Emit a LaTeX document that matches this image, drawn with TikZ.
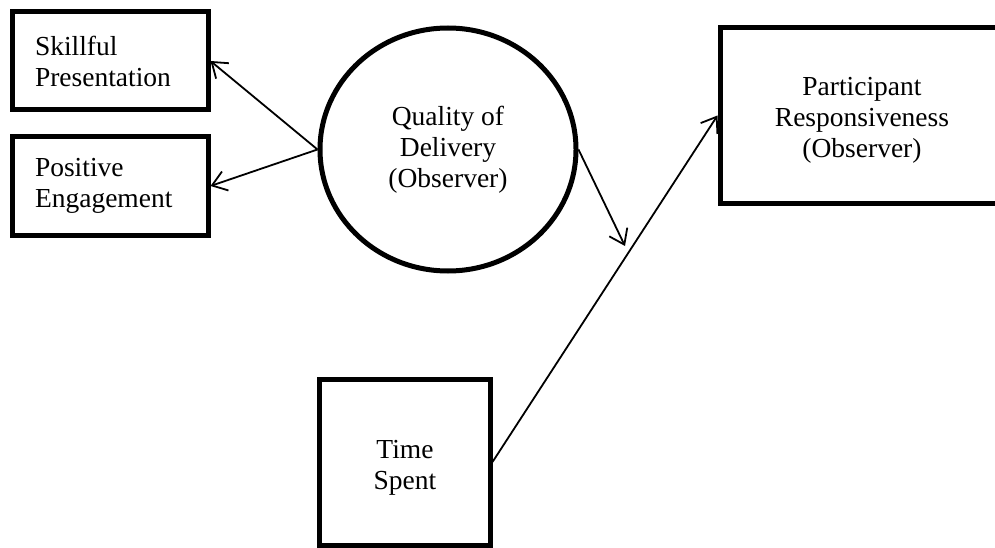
\documentclass[tikz,border=0pt]{standalone}
\usepackage{fontspec}
\setmainfont{Liberation Serif}
\usetikzlibrary{shapes.geometric,arrows.meta}

\tikzset{
  txt/.style={font=\fontsize{27.5}{31}\selectfont},
  box/.style={draw, line width=5pt, rectangle, inner sep=0pt, align=center, txt},
  leftbox/.style={box, minimum width=196pt, minimum height=98pt,
    text width=150pt, align=left},
  oval/.style={draw, line width=5pt, ellipse, inner sep=0pt, align=center,
    minimum width=256pt, minimum height=243pt, txt},
  link/.style={line width=1.8pt, -{Straight Barb[length=14pt,width=20pt,line width=1.8pt]}}
}

\begin{document}
\begin{tikzpicture}[x=1pt, y=-1pt]
  \useasboundingbox (0,0) rectangle (995,548);
  \fill[white] (0,0) rectangle (995,548);

  % outcome boxes on the left
  \node[leftbox] (skill) at (110,61) {Skillful\\Presentation};
  \node[leftbox] (engage) at (110,186) {Positive\\Engagement};

  % central construct
  \node[oval] (quality) at (448,149.5) {Quality of\\Delivery\\(Observer)};

  % responsiveness box, running off the right edge
  \node[box, minimum width=280pt, minimum height=175pt] (resp) at (860,115.5) {};
  \node[txt, align=center] (resptext) at (862,120)
    {Participant\\Responsiveness\\(Observer)};

  % time box, running off the bottom edge
  \node[box, minimum width=171pt, minimum height=166pt] (time) at (404.5,462) {};
  \node[txt, align=center] (timetext) at (405,468) {Time\\Spent};

  % free end of the moderating arrow
  \coordinate (mod) at (625,246);

  % connectors
  \draw[link] (quality.west) -- (skill.east);
  \draw[link] (quality.west) -- (engage.east);
  \draw[link] (quality.east) -- (mod);
  \draw[link] (time.east) -- (resp.west);
\end{tikzpicture}
\end{document}
